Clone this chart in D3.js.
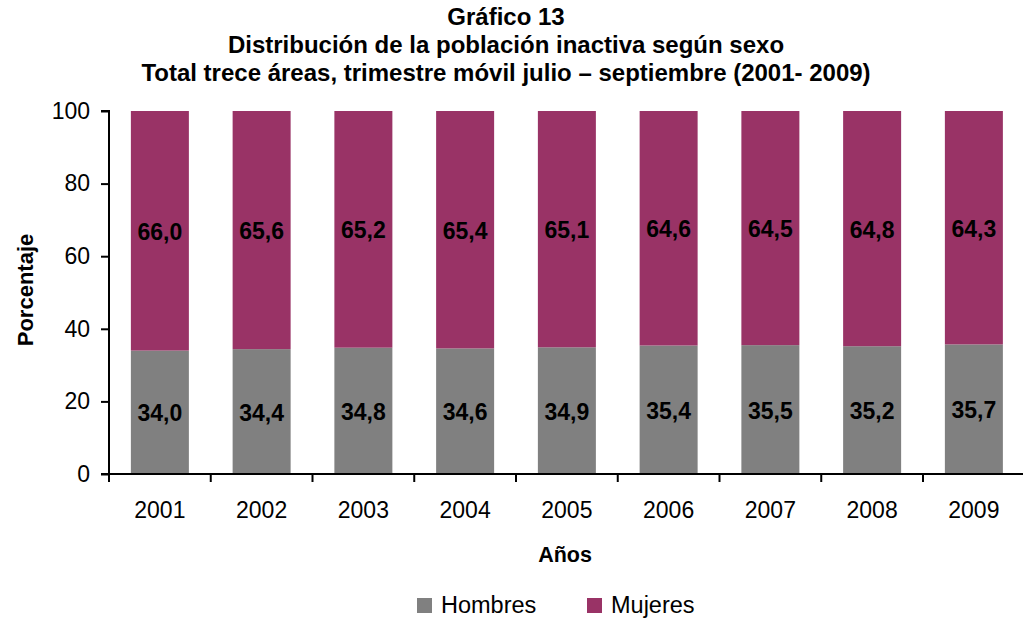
<!DOCTYPE html>
<html><head><meta charset="utf-8">
<script src="https://cdn.jsdelivr.net/npm/d3@7"></script>
<style>body{margin:0;background:#fff}svg{display:block;font-family:"Liberation Sans",Arial,sans-serif}</style>
</head><body>
<svg id="c" width="1023" height="619"></svg>
<script>
const years = ["2001","2002","2003","2004","2005","2006","2007","2008","2009"];
const hombres = [34.0,34.4,34.8,34.6,34.9,35.4,35.5,35.2,35.7];
const mujeres = [66.0,65.6,65.2,65.4,65.1,64.6,64.5,64.8,64.3];
const yTicks = [0,20,40,60,80,100];
const titleLines = ["Gráfico 13","Distribución de la población inactiva según sexo","Total trece áreas, trimestre móvil julio – septiembre (2001- 2009)"];
const seriesNames = ["Hombres","Mujeres"];
const colors = ["#808080","#993366"];

(function(){
const svg = d3.select("#c");
const pL = 109, pB = 474, pT = 111;
const step = 101.75;
const pR = pL + step * years.length;
const x = d3.scaleBand().domain(years).range([pL, pR]).paddingInner(0.43).paddingOuter(0.215);
const y = d3.scaleLinear().domain([0,100]).range([pB, pT]);

svg.append("g").selectAll("text").data(titleLines).join("text")
  .attr("x", 506).attr("y", (d,i)=>25+i*28).attr("text-anchor","middle")
  .attr("font-weight","bold").attr("font-size",24).text(d=>d);

const fmt = v => v.toFixed(1).replace(".", ",");
const stack = years.map((yr,i)=>({yr, h:hombres[i], m:mujeres[i]}));

const g = svg.append("g");
g.selectAll("rect.h").data(stack).join("rect").attr("class","h")
  .attr("x", d=>x(d.yr)).attr("width", x.bandwidth())
  .attr("y", d=>y(d.h)).attr("height", d=>y(0)-y(d.h)).attr("fill", colors[0]);
g.selectAll("rect.m").data(stack).join("rect").attr("class","m")
  .attr("x", d=>x(d.yr)).attr("width", x.bandwidth())
  .attr("y", d=>y(d.h+d.m)).attr("height", d=>y(d.h)-y(d.h+d.m)).attr("fill", colors[1]);

g.selectAll("text.lh").data(stack).join("text").attr("class","lh")
  .attr("x", d=>x(d.yr)+x.bandwidth()/2).attr("y", d=>y(d.h/2)+9)
  .attr("text-anchor","middle").attr("font-weight","bold").attr("font-size",23).text(d=>fmt(d.h));
g.selectAll("text.lm").data(stack).join("text").attr("class","lm")
  .attr("x", d=>x(d.yr)+x.bandwidth()/2).attr("y", d=>y(d.h+d.m/2)+9)
  .attr("text-anchor","middle").attr("font-weight","bold").attr("font-size",23).text(d=>fmt(d.m));

const ya = svg.append("g").attr("transform",`translate(${pL},0)`)
  .call(d3.axisLeft(y).tickValues(yTicks).tickSize(8).tickPadding(11));
ya.select(".domain").attr("stroke","#000").attr("stroke-width",2).attr("d",`M-8,${pT}H0V${pB}`);
ya.selectAll(".tick line").attr("stroke","#000").attr("stroke-width",2);
ya.selectAll(".tick text").attr("font-size",23).attr("fill","#000").attr("font-family","Liberation Sans, Arial, sans-serif");

const boundaries = d3.range(years.length+1).map(i=>pL + i*step);
svg.append("line").attr("x1",pL-8).attr("x2",1023).attr("y1",pB).attr("y2",pB).attr("stroke","#000").attr("stroke-width",2);
svg.append("g").selectAll("line").data(boundaries).join("line")
  .attr("x1",d=>d).attr("x2",d=>d).attr("y1",pB).attr("y2",pB+8).attr("stroke","#000").attr("stroke-width",2);
svg.append("g").selectAll("text").data(years).join("text")
  .attr("x", d=>x(d)+x.bandwidth()/2).attr("y", 518).attr("text-anchor","middle")
  .attr("font-size",23).text(d=>d);

svg.append("text").attr("x",565).attr("y",562).attr("text-anchor","middle").attr("font-weight","bold").attr("font-size",21.5).text("Años");
svg.append("text").attr("transform","translate(33,290) rotate(-90)").attr("text-anchor","middle").attr("font-weight","bold").attr("font-size",22).text("Porcentaje");

const legX = [417, 587];
const lg = svg.append("g");
seriesNames.forEach((n,i)=>{
  lg.append("rect").attr("x",legX[i]).attr("y",598).attr("width",15).attr("height",15).attr("fill",colors[i]);
  lg.append("text").attr("x",legX[i]+24).attr("y",613).attr("font-size",23.5).text(n);
});
})();
</script>
</body></html>
